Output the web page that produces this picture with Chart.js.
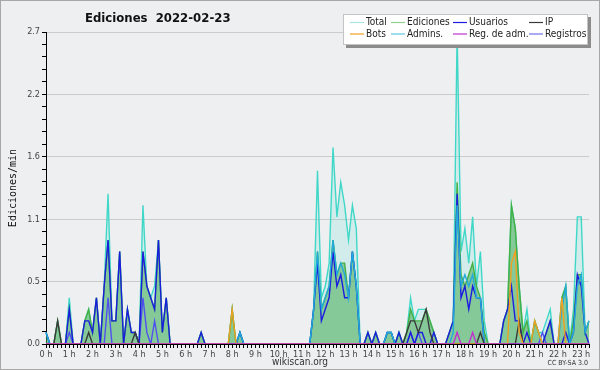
<!DOCTYPE html>
<html>
<head>
<meta charset="utf-8">
<script src="https://cdn.jsdelivr.net/npm/chart.js@4.4.1/dist/chart.umd.min.js"></script>
<style>
  html, body { margin: 0; padding: 0; background: #eeeff0; }
</style>
</head>
<body>
<canvas id="chart" width="600" height="370"></canvas>
<script>
// edits per minute, one value every 10 minutes (0:00 .. 23:20)
const total = [
  0.1,0,0,0.2,0,0,0.4,0,0,0,0.2,0.3,
  0.1,0.4,0,0.5,1.3,0.2,0.2,0.8,0,0.3,0.1,0.1,
  0,1.2,0.5,0.4,0.5,0.9,0.1,0.4,0,0,0,0,
  0,0,0,0,0.1,0,0,0,0,0,0,0,
  0.3,0,0.1,0,0,0,0,0,0,0,0,0,
  0,0,0,0,0,0,0,0,0,0.3,1.5,0.4,
  0.5,0.7,1.7,1.1,1.4,1.2,0.9,1.2,1.0,0,0,0.1,
  0,0.1,0,0,0.1,0.1,0,0.1,0,0.1,0.4,0.2,
  0.3,0.3,0.3,0.2,0.1,0,0,0,0.1,0.2,2.7,0.8,
  1.0,0.7,1.1,0.5,0.8,0.2,0,0,0,0,0.2,0.3,
  1.2,1.0,0.5,0.1,0.3,0,0.2,0.1,0.1,0.2,0.3,0,
  0,0.4,0.5,0,0.3,1.1,1.1,0.1,0.2
];
const ediciones = [
  0.1,0,0,0.2,0,0,0.3,0,0,0,0.2,0.3,
  0.1,0.4,0,0.5,0.9,0.2,0.2,0.8,0,0.3,0.1,0.1,
  0,0.8,0.5,0.4,0.3,0.9,0.1,0.4,0,0,0,0,
  0,0,0,0,0.1,0,0,0,0,0,0,0,
  0.3,0,0.1,0,0,0,0,0,0,0,0,0,
  0,0,0,0,0,0,0,0,0,0.3,0.8,0.3,
  0.4,0.5,0.9,0.6,0.7,0.7,0.4,0.8,0.5,0,0,0.1,
  0,0.1,0,0,0.1,0.1,0,0.1,0,0.1,0.3,0.2,
  0.2,0.2,0.3,0.2,0.1,0,0,0,0.1,0.2,1.4,0.6,
  0.5,0.6,0.7,0.5,0.4,0.1,0,0,0,0,0.2,0.3,
  1.2,1.0,0.5,0.1,0.2,0,0.2,0.1,0,0.1,0.2,0,
  0,0.4,0.5,0,0.2,0.6,0.6,0.1,0.2
];
const usuarios = [
  0.1,0,0,0,0,0,0.3,0,0,0,0.2,0.2,
  0.1,0.4,0,0.5,0.9,0.2,0.2,0.8,0,0.3,0.1,0.1,
  0,0.8,0.5,0.4,0.3,0.9,0.1,0.4,0,0,0,0,
  0,0,0,0,0.1,0,0,0,0,0,0,0,
  0,0,0.1,0,0,0,0,0,0,0,0,0,
  0,0,0,0,0,0,0,0,0,0.3,0.7,0.2,
  0.3,0.4,0.8,0.5,0.6,0.4,0.4,0.8,0.5,0,0,0.1,
  0,0.1,0,0,0.1,0.1,0,0.1,0,0,0.1,0,
  0.1,0.1,0,0,0.1,0,0,0,0.1,0.2,1.3,0.4,
  0.5,0.3,0.5,0.4,0.4,0,0,0,0,0,0.2,0.3,
  0.5,0.2,0.2,0,0.1,0,0,0,0,0.1,0.2,0,
  0,0,0.1,0,0.1,0.6,0.5,0.1,0
];
const ip = [
  0,0,0,0.2,0,0,0,0,0,0,0,0.1,
  0,0,0,0,0,0,0,0,0,0,0,0.1,
  0,0,0,0,0,0,0,0,0,0,0,0,
  0,0,0,0,0,0,0,0,0,0,0,0,
  0,0,0,0,0,0,0,0,0,0,0,0,
  0,0,0,0,0,0,0,0,0,0,0,0,
  0,0,0,0,0,0,0,0,0,0,0,0,
  0,0,0,0,0,0,0,0,0,0.1,0.2,0.2,
  0.1,0.2,0.3,0.1,0,0,0,0,0,0,0,0,
  0,0,0,0,0.1,0,0,0,0,0,0,0,
  0,0,0.2,0,0,0,0,0,0,0,0,0,
  0,0,0,0,0,0,0,0,0
];
const bots = [
  0,0,0,0,0,0,0,0,0,0,0,0,
  0,0,0,0,0,0,0,0,0,0,0,0,
  0,0,0,0,0,0,0,0,0,0,0,0,
  0,0,0,0,0,0,0,0,0,0,0,0,
  0.3,0,0,0,0,0,0,0,0,0,0,0,
  0,0,0,0,0,0,0,0,0,0,0,0,
  0,0,0,0,0,0,0,0,0,0,0,0,
  0,0,0,0,0,0,0,0,0,0,0,0,
  0,0,0,0,0,0,0,0,0,0,0,0,
  0,0,0,0,0,0,0,0,0,0,0,0,
  0.7,0.8,0.1,0,0,0,0.2,0.1,0,0,0,0,
  0,0.4,0,0,0,0,0,0,0
];
const admins = [
  0.1,0,0,0,0,0,0,0,0,0,0,0,
  0,0,0,0,0,0,0,0,0,0,0,0,
  0,0,0,0,0,0,0,0,0,0,0,0,
  0,0,0,0,0,0,0,0,0,0,0,0,
  0,0,0.1,0,0,0,0,0,0,0,0,0,
  0,0,0,0,0,0,0,0,0,0.3,0.8,0.3,
  0.4,0.5,0.9,0.6,0.7,0.6,0.4,0.8,0.5,0,0,0,
  0,0,0,0,0.1,0.1,0,0,0,0,0,0,
  0,0,0,0,0,0,0,0,0,0.1,1.2,0.5,
  0.6,0.5,0.6,0.4,0.4,0,0,0,0,0,0,0,
  0,0,0,0,0,0,0,0,0,0,0,0,
  0,0.3,0.5,0,0.1,0.5,0.6,0.1,0.2
];
const regAdm = [
  0,0,0,0,0,0,0,0,0,0,0,0,
  0,0,0,0,0,0,0,0,0,0,0,0,
  0,0,0,0,0,0,0,0,0,0,0,0,
  0,0,0,0,0,0,0,0,0,0,0,0,
  0,0,0,0,0,0,0,0,0,0,0,0,
  0,0,0,0,0,0,0,0,0,0,0,0,
  0,0,0,0,0,0,0,0,0,0,0,0,
  0,0,0,0,0,0,0,0,0,0,0,0,
  0,0,0,0,0,0,0,0,0,0,0.1,0,
  0,0,0.1,0,0,0,0,0,0,0,0,0,
  0,0,0,0,0,0,0,0,0,0,0,0,
  0,0,0,0,0,0,0,0,0
];
const registros = [
  0,0,0,0,0,0,0.1,0,0,0,0,0,
  0,0,0,0,0.4,0,0,0,0,0,0,0,
  0,0.4,0.1,0,0.2,0,0,0,0,0,0,0,
  0,0,0,0,0,0,0,0,0,0,0,0,
  0,0,0,0,0,0,0,0,0,0,0,0,
  0,0,0,0,0,0,0,0,0,0,0,0,
  0,0,0,0,0,0,0,0,0,0,0,0,
  0,0,0,0,0,0,0,0,0,0,0.1,0,
  0.1,0,0,0,0,0,0,0,0,0,0,0,
  0,0,0,0,0,0,0,0,0,0,0,0,
  0,0,0,0,0,0,0,0,0.1,0,0,0,
  0,0,0,0,0,0,0,0,0
];

const hourLabels = ['0 h','1 h','2 h','3 h','4 h','5 h','6 h','7 h','8 h','9 h','10 h','11 h',
  '12 h','13 h','14 h','15 h','16 h','17 h','18 h','19 h','20 h','21 h','22 h','23 h'];
const yTickLabels = ['0.0','0.5','1.1','1.6','2.2','2.7'];
const yMax = 2.7;
const slotsPerHour = 6;

const FONT = '"DejaVu Sans Condensed", "DejaVu Sans", sans-serif';
const slots = total.map((v, i) => i);

function line(label, data, color, order, extra) {
  return Object.assign({
    label: label, data: data, borderColor: color, legendColor: color,
    borderWidth: 1.4, pointRadius: 0, tension: 0, fill: false, order: order
  }, extra || {});
}

// background, frame, title, legend and footer texts
const decor = {
  id: 'decor',
  beforeDraw(chart) {
    const c = chart.ctx;
    c.save();
    c.fillStyle = '#eeeff0';
    c.fillRect(0, 0, 600, 370);
    c.strokeStyle = '#a8a8a8';
    c.lineWidth = 1;
    c.strokeRect(0.5, 0.5, 599, 369);
    c.restore();
  },
  afterDraw(chart) {
    const c = chart.ctx;
    c.save();
    c.fillStyle = '#111';
    c.textBaseline = 'middle';
    c.font = 'bold 13px ' + FONT;
    c.fillText('Ediciones  2022-02-23', 85, 19);

    // legend box
    c.fillStyle = '#8c8c8c';
    c.fillRect(346, 17, 245, 31);
    c.fillStyle = '#ffffff';
    c.fillRect(343, 14, 245, 31);
    c.strokeStyle = '#c4c4c4';
    c.strokeRect(343.5, 14.5, 244, 30);
    const colX = [350, 391, 453, 529];
    const rowY = [22, 33.5];
    c.font = '10px ' + FONT;
    chart.data.datasets.forEach((ds, k) => {
      const x = colX[k % 4], y = rowY[Math.floor(k / 4)];
      c.strokeStyle = ds.legendColor;
      c.lineWidth = 1.2;
      c.beginPath();
      c.moveTo(x, y + 0.5);
      c.lineTo(x + 14, y + 0.5);
      c.stroke();
      c.fillStyle = '#222';
      c.fillText(ds.label, x + 16, y + 0.5);
    });

    c.fillStyle = '#333';
    c.textAlign = 'center';
    c.font = '10px ' + FONT;
    c.fillText('wikiscan.org', 300, 362);
    c.textAlign = 'right';
    c.font = '7px ' + FONT;
    c.fillText('CC BY-SA 3.0', 588, 363);
    c.restore();
  }
};

new Chart(document.getElementById('chart'), {
  type: 'line',
  data: {
    labels: slots,
    datasets: [
      line('Total', total, '#3fd8c8', 8, { fill: 'origin', backgroundColor: 'rgba(64,224,208,0.16)', legendColor: '#a6e6e2' }),
      line('Ediciones', ediciones, '#44b044', 7, { fill: 'origin', backgroundColor: 'rgba(60,165,70,0.5)', legendColor: '#8fd08f' }),
      line('Usuarios', usuarios, '#1c1ce0', 5),
      line('IP', ip, '#3a3a3a', 3),
      line('Bots', bots, '#f0a020', 2),
      line('Admins.', admins, '#22aadd', 4, { legendColor: '#5cc8e0' }),
      line('Reg. de adm.', regAdm, '#c030d0', 1),
      line('Registros', registros, '#5050f0', 6, { legendColor: '#7070f0' })
    ]
  },
  options: {
    responsive: false,
    animation: false,
    layout: { padding: { top: 32, right: 11, left: 0, bottom: 0 } },
    plugins: { legend: { display: false }, title: { display: false }, tooltip: { enabled: false } },
    scales: {
      x: {
        type: 'category',
        offset: false,
        afterFit: (s) => { s.height = 26; },
        grid: { drawOnChartArea: false, color: '#000', tickColor: '#000', tickLength: 4 },
        border: { color: '#000' },
        ticks: {
          autoSkip: false, maxRotation: 0, minRotation: 0, padding: 1,
          color: '#444', font: { family: FONT, size: 9 },
          callback: (v, i) => i % slotsPerHour === 0 ? hourLabels[i / slotsPerHour] : ''
        }
      },
      y: {
        min: 0, max: yMax,
        afterFit: (s) => { s.width = 46; },
        afterBuildTicks: (s) => {
          const n = (yTickLabels.length - 1) * 5;
          s.ticks = Array.from({ length: n + 1 }, (_, k) => ({ value: yMax * k / n }));
        },
        grid: {
          color: (ctx) => (ctx.index % 5 === 0 && ctx.index > 0) ? '#cbcbcb' : 'rgba(0,0,0,0)',
          tickColor: '#000', tickLength: 4
        },
        border: { color: '#000' },
        title: { display: true, text: 'Ediciones/min', color: '#111', padding: { top: 7, bottom: 0 },
          font: { family: '"DejaVu Sans Mono", monospace', size: 10 } },
        ticks: {
          autoSkip: false, padding: 2, color: '#444', font: { family: FONT, size: 9 },
          callback: (v, i) => i % 5 === 0 ? yTickLabels[i / 5] : ''
        }
      }
    }
  },
  plugins: [decor]
});
</script>
</body>
</html>
